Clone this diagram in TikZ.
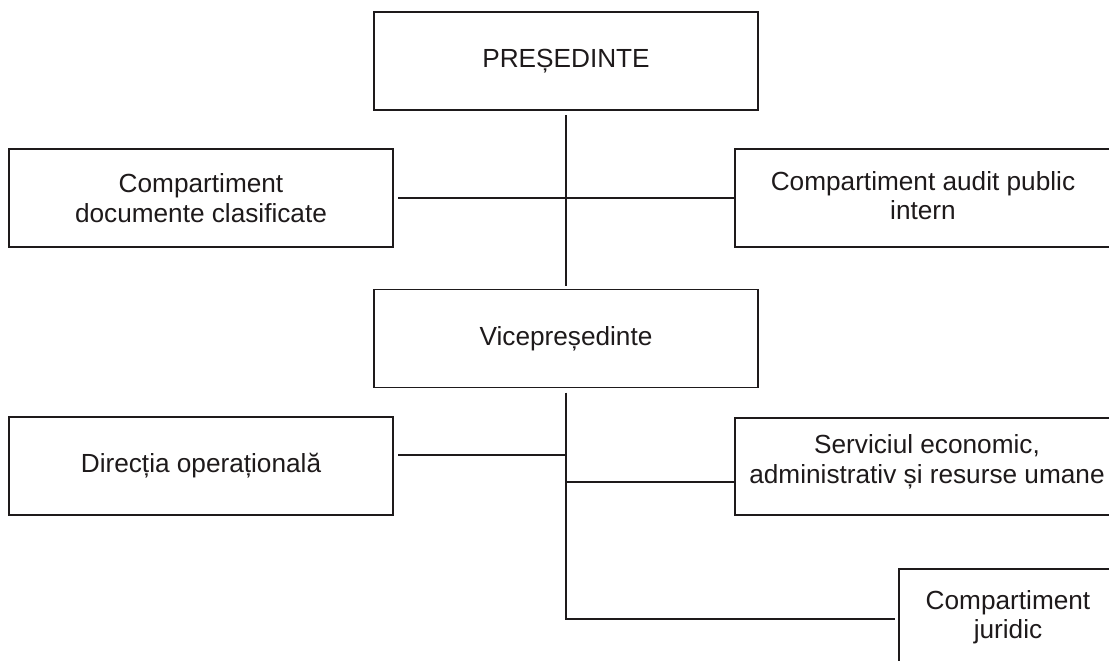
\documentclass[tikz,border=0pt]{standalone}
\usepackage{fontspec}
\setmainfont{Liberation Sans}
\definecolor{ink}{HTML}{1E1A1B}
\tikzset{
  box/.style={draw=ink, line width=1.6pt, inner sep=0pt, outer sep=0pt, minimum width=384pt, minimum height=98pt},
  openbox/.style={draw=ink, line width=1.6pt, inner sep=0pt, outer sep=0pt},
  label/.style={text=ink, align=center, inner sep=0pt, font=\fontsize{26.2}{29.5}\selectfont},
  link/.style={draw=ink, line width=1.3pt},
}
\begin{document}
\begin{tikzpicture}[x=1pt,y=-1pt]
\useasboundingbox (0,0) rectangle (1109,661);
\clip (0,0) rectangle (1109,661);
\fill[white] (0,0) rectangle (1109,661);

% boxes
\node[box, label] (pres) at (566,61) {PREȘEDINTE};
\node[box, label] (vice) at (566,338.5) {Vicepreședinte};
\node[box, label] (doc) at (201,198) {Compartiment\\documente clasificate};
\node[box, label] (dir) at (201,466) {Direcția operațională};

\node[openbox, minimum width=400pt, minimum height=98pt, anchor=north west] (auditbox) at (735,149) {};
\node[label] (audit) at (923,195.6) {Compartiment audit public\\intern};

\node[openbox, minimum width=400pt, minimum height=97pt, anchor=north west] (servbox) at (735,418) {};
\node[label] (serv) at (927,462) {Serviciul economic,\\administrativ și resurse umane};

\node[openbox, minimum width=240pt, minimum height=140pt, anchor=north west] (jurbox) at (899,569) {};
\node[label] (jur) at (1008,617.4) {Compartiment\\juridic};

% junction points
\coordinate (j1) at (566,455);
\coordinate (j2) at (566,482);
\coordinate (j3) at (566,619);

% connectors
\draw[link, shorten <=5pt, shorten >=4pt] (pres.south) -- (vice.north);
\draw[link, shorten <=5pt] (doc.east) -- (doc.east -| auditbox.west);
\draw[link, shorten <=5pt, shorten >=4pt] (vice.south) -- (j3) -- (j3 -| jurbox.west);
\draw[link, shorten >=5pt] (j1) -- (j1 -| dir.east);
\draw[link] (j2) -- (j2 -| servbox.west);
\end{tikzpicture}
\end{document}
